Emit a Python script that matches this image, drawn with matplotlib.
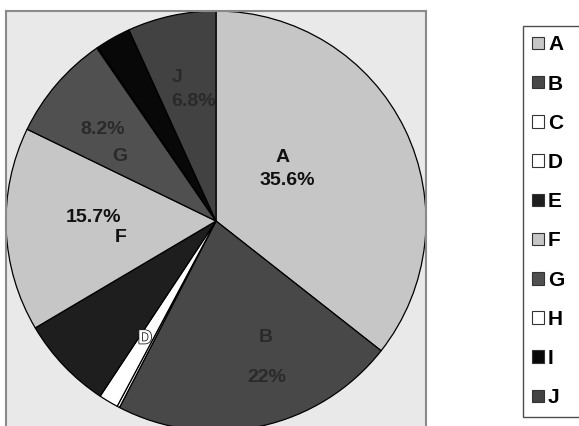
import matplotlib
matplotlib.use("Agg")
import matplotlib.pyplot as plt
import matplotlib.patheffects as pe

plt.rcParams['font.family'] = ['Liberation Sans', 'DejaVu Sans']
plt.rcParams['font.weight'] = 'bold'

# slice data, clockwise from 12 o'clock
categories = ["A", "B", "C", "D", "E", "F", "G", "H", "I", "J"]
shares = [35.6, 22, 0.2, 1.5, 7.2, 15.7, 8.2, 0.1, 2.7, 6.8]
slice_colors = ["#c6c6c6", "#484848", "#ffffff", "#ffffff", "#1e1e1e",
                "#c6c6c6", "#505050", "#ffffff", "#080808", "#424242"]

W, H = 579, 426
fig = plt.figure(figsize=(W / 100, H / 100), dpi=100)
fig.patch.set_facecolor("white")

# plot area box (pie fills it, bottom runs off the picture)
ax = fig.add_axes([6 / W, (H - 431) / H, 420 / W, 420 / H])

wedges, _ = ax.pie(shares, colors=slice_colors, startangle=90, counterclock=False,
                   radius=1.0, frame=True,
                   wedgeprops=dict(edgecolor="black", linewidth=0.9))
ax.set_xlim(-1, 1)
ax.set_ylim(-1, 1)
ax.set_aspect("auto")
ax.set_facecolor("#e9e9e9")
for s in ax.spines.values():
    s.set_edgecolor("#8a8a8a")
    s.set_linewidth(1.5)
ax.set_xticks([])
ax.set_yticks([])

def pct(v):
    return f"{v:g}%"

# label placement in picture pixels around centre (216, 221), radius 210 px
cx, cy, r = 216, 221, 210
labels = [
    ("A", 283, 158, "#111111", "center"),
    (pct(shares[0]), 287, 181, "#111111", "center"),
    ("B", 266, 338, "#2a2a2a", "center"),
    (pct(shares[1]), 267, 377, "#2a2a2a", "center"),
    ("J", 172, 78, "#2a2a2a", "left"),
    (pct(shares[9]), 171, 102, "#2a2a2a", "left"),
    (pct(shares[6]), 125, 130, "#2a2a2a", "right"),
    ("G", 127, 157, "#2a2a2a", "right"),
    (pct(shares[5]), 121, 218, "#111111", "right"),
    ("F", 127, 238, "#111111", "right"),
]
for txt, px, py, col, ha in labels:
    ax.text((px - cx) / r, (cy - py) / r, txt, color=col, ha=ha, va="center",
            fontsize=14, fontweight="bold")

ax.text((145 - cx) / r, (cy - 339) / r, "D", color="white", ha="center", va="center",
        fontsize=14, fontweight="bold",
        path_effects=[pe.withStroke(linewidth=1.2, foreground="#222222")])

leg = fig.legend(wedges, categories, loc="upper left",
                 bbox_to_anchor=(523 / W, 1 - 26 / H, (W - 523) / W + 0.01, 0.0),
                 mode="expand", borderaxespad=0, borderpad=0.45,
                 handlelength=0.55, handleheight=0.55, handletextpad=0.2,
                 labelspacing=0.97, fontsize=15, frameon=True, fancybox=False)
leg.get_frame().set_edgecolor("#222222")
leg.get_frame().set_linewidth(1.0)
for t in leg.get_texts():
    t.set_fontweight("bold")
for h in leg.legend_handles:
    h.set_edgecolor("#333333")
    h.set_linewidth(0.8)

fig.savefig("out.png", dpi=100)
